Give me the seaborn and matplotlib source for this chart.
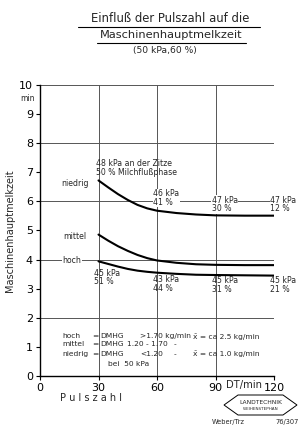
import matplotlib
matplotlib.use("Agg")
import matplotlib.pyplot as plt
import seaborn as sns
import pandas as pd

# ---- data ----
pulszahl = [30, 35, 40, 45, 50, 55, 60, 70, 80, 90, 105, 120]
niedrig = [6.72, 6.48, 6.25, 6.05, 5.88, 5.76, 5.68, 5.60, 5.55, 5.52, 5.51, 5.51]
mittel = [4.86, 4.65, 4.46, 4.30, 4.16, 4.05, 3.97, 3.89, 3.84, 3.82, 3.81, 3.81]
hoch = [3.94, 3.85, 3.76, 3.68, 3.62, 3.58, 3.55, 3.51, 3.48, 3.47, 3.46, 3.45]
groups = ["niedrig", "mittel", "hoch"]
xticks = [0, 30, 60, 90, 120]
yticks = list(range(0, 11))

# annotation texts
top_notes = [(30, "48 kPa an der Zitze\n50 % Milchflußphase"), (60, "46 kPa\n41 %"),
             (90, "47 kPa\n30 %"), (120, "47 kPa\n12 %")]
bottom_notes = [(30, "45 kPa\n51 %"), (60, "43 kPa\n44 %"), (90, "45 kPa\n31 %"), (120, "45 kPa\n21 %")]

rows = []
for name, vals in zip(groups, [niedrig, mittel, hoch]):
    for x, y in zip(pulszahl, vals):
        rows.append({"Pulszahl": x, "Zeit": y, "Gruppe": name})
df = pd.DataFrame(rows)

sns.set_style("white")
plt.rcParams['font.family'] = ['DejaVu Sans']

fig = plt.figure(figsize=(3.06, 4.32), dpi=100)
ax = fig.add_axes([40/306, 1 - 376/432, 234/306, 291/432])

# grid lines
for gx in [30, 60, 90, 120]:
    ax.plot([gx, gx], [0, 10], color="#555555", lw=0.7, zorder=1)
for gy in [2, 4, 6, 8, 10]:
    ax.plot([0, 120], [gy, gy], color="#555555", lw=0.7, zorder=1)

sns.lineplot(data=df, x="Pulszahl", y="Zeit", hue="Gruppe",
             palette={"niedrig": "black", "mittel": "black", "hoch": "black"},
             legend=False, lw=1.5, ax=ax, zorder=3)

ax.set_xlim(0, 120)
ax.set_ylim(0, 10)
ax.set_xticks(xticks)
ax.set_xticklabels(["0", "30", "60", "90", "120"], fontsize=8)
ax.set_yticks(yticks)
ax.set_yticklabels([str(v) for v in yticks], fontsize=8)
ax.tick_params(axis="both", length=3, width=0.8, direction="out", pad=2, colors="black")
ax.tick_params(axis="y", left=True)
ax.tick_params(axis="x", bottom=True)
for s in ["top", "right"]:
    ax.spines[s].set_visible(False)
for s in ["left", "bottom"]:
    ax.spines[s].set_color("black")
    ax.spines[s].set_linewidth(1.0)
ax.set_xlabel("")
ax.set_ylabel("Maschinenhauptmelkzeit", fontsize=7, labelpad=8)
ax.yaxis.set_label_coords(-0.105, 0.5)

fs = 5.6
ls = 0.95
wb = dict(facecolor="white", edgecolor="none", pad=0.3)
# group labels
ax.text(18, 6.6, "niedrig", fontsize=fs, ha="center", va="center")
ax.text(18, 4.8, "mittel", fontsize=fs, ha="center", va="center")
ax.text(16.5, 3.97, "hoch", fontsize=fs, ha="center", va="center", bbox=wb, zorder=2)
ax.text(-6.5, 9.55, "min", fontsize=5.5, ha="center", va="center")

for x, t in top_notes:
    if x == 30:
        ax.text(28.5, 7.15, t, fontsize=fs, ha="left", va="center", linespacing=ls)
    else:
        ax.text(x - 2, 5.89 if x > 60 else 6.12, t, fontsize=fs, ha="left", va="center",
                linespacing=ls, bbox=wb, zorder=2)
for x, t in bottom_notes:
    ax.text(x - 2.5 if x == 30 else x - 2, 3.38 if x == 30 else (3.17 if x == 60 else 3.12), t,
            fontsize=fs, ha="left", va="center", linespacing=ls)

# legend block
lfs = 5.4
ly = [1.37, 1.10, 0.76]
ax.text(11.3, ly[0], "hoch", fontsize=lfs, va="center")
ax.text(11.3, ly[1], "mittel", fontsize=lfs, va="center")
ax.text(11.3, ly[2], "niedrig", fontsize=lfs, va="center")
for y in ly:
    ax.text(26.7, y, "=", fontsize=lfs, va="center")
    ax.text(30.8, y, "DMHG", fontsize=lfs, va="center")
ax.text(51.3, ly[0], ">1.70 kg/min", fontsize=lfs, va="center")
ax.text(44.8, ly[1], "1.20 - 1.70", fontsize=lfs, va="center")
ax.text(51.3, ly[2], "<1.20", fontsize=lfs, va="center")
ax.text(68.7, ly[1], "-", fontsize=lfs, va="center")
ax.text(68.7, ly[2], "-", fontsize=lfs, va="center")
ax.text(78.5, ly[0], "x̄ = ca 2.5 kg/min", fontsize=lfs, va="center")
ax.text(78.5, ly[2], "x̄ = ca 1.0 kg/min", fontsize=lfs, va="center")
ax.text(34.9, 0.41, "bei  50 kPa", fontsize=lfs, va="center")

# figure texts
fig.text(170/306, 1 - 19/432, "Einfluß der Pulszahl auf die", fontsize=8.4, ha="center", va="center")
fig.text(171/306, 1 - 35/432, "Maschinenhauptmelkzeit", fontsize=8.2, ha="center", va="center")
fig.text(165/306, 1 - 51/432, "(50 kPa,60 %)", fontsize=6.6, ha="center", va="center")
fig.add_artist(plt.Line2D([78/306, 260/306], [1 - 27/432, 1 - 27/432], color="black", lw=0.8))
fig.add_artist(plt.Line2D([97/306, 246/306], [1 - 43/432, 1 - 43/432], color="black", lw=0.8))

fig.text(91/306, 1 - 398/432, "P u l s z a h l", fontsize=7, ha="center", va="center")
fig.text(244/306, 1 - 385/432, "DT/min", fontsize=7.2, ha="center", va="center")

# logo
lx0, lx1, lyc, lh = 224/306, 297/306, 1 - 405/432, 10/432
fig.add_artist(plt.Polygon([[lx0, lyc], [lx0 + 14/306, lyc + lh], [lx1 - 14/306, lyc + lh],
                            [lx1, lyc], [lx1 - 14/306, lyc - lh], [lx0 + 14/306, lyc - lh]],
                           closed=True, fill=False, edgecolor="black", lw=0.7))
fig.text((lx0 + lx1) / 2, lyc + 3/432, "LANDTECHNIK", fontsize=4.3, ha="center", va="center")
fig.text((lx0 + lx1) / 2, lyc - 4/432, "WEIHENSTEPHAN", fontsize=3, ha="center", va="center")
fig.text(228/306, 1 - 422/432, "Weber/Trz", fontsize=4.8, ha="center", va="center")
fig.text(287/306, 1 - 422/432, "76/307", fontsize=4.8, ha="center", va="center")

fig.savefig("out.png", dpi=100)
